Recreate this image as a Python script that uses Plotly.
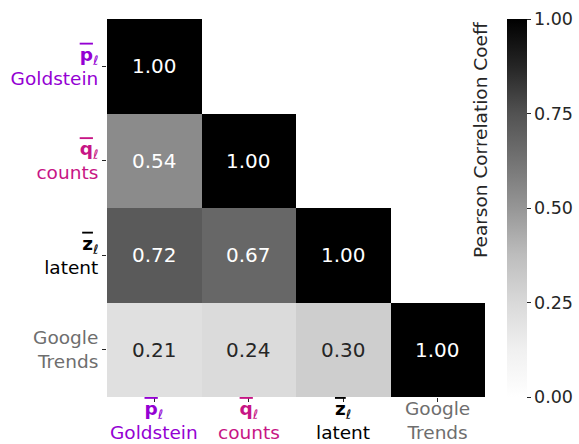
import plotly.graph_objects as go

# Correlation matrix (lower triangle only)
labels_main = ["p", "q", "z", None]
labels_sub = ["Goldstein", "counts", "latent", "Google<br>Trends"]
label_colors = ["#9400D3", "#C71585", "#000000", "#6E6E6E"]
corr = [
    [1.00, None, None, None],
    [0.54, 1.00, None, None],
    [0.72, 0.67, 1.00, None],
    [0.21, 0.24, 0.30, 1.00],
]
cbar_ticks = [0.00, 0.25, 0.50, 0.75, 1.00]

# matplotlib-style "Greys" colour map (white -> black)
greys = [
    [0.000, "rgb(255,255,255)"],
    [0.125, "rgb(240,240,240)"],
    [0.250, "rgb(217,217,217)"],
    [0.375, "rgb(189,189,189)"],
    [0.500, "rgb(150,150,150)"],
    [0.625, "rgb(115,115,115)"],
    [0.750, "rgb(82,82,82)"],
    [0.875, "rgb(37,37,37)"],
    [1.000, "rgb(0,0,0)"],
]

LABEL_SIZE = 18.5


def tick_label(main, sub, color):
    lines = []
    if main is not None:
        lines.append(
            f"<span style='color:{color};text-decoration:overline'><b>{main}</b></span>"
            f"<span style='color:{color}'><sub>\u2113</sub></span>"
        )
    for part in sub.split("<br>"):
        lines.append(f"<span style='color:{color}'>{part}</span>")
    return "<br>".join(lines)


ticktext = [tick_label(m, s, c) for m, s, c in zip(labels_main, labels_sub, label_colors)]
idx = list(range(len(labels_sub)))

fig = go.Figure(
    go.Heatmap(
        z=corr,
        x=idx,
        y=idx,
        zmin=0,
        zmax=1,
        colorscale=greys,
        hoverongaps=False,
        colorbar=dict(
            x=(507 - 107) / 378,
            xanchor="left",
            xpad=0,
            y=0.5,
            yanchor="middle",
            ypad=0,
            len=1.0,
            lenmode="fraction",
            thickness=20,
            thicknessmode="pixels",
            outlinewidth=0,
            tickvals=cbar_ticks,
            ticktext=[f"{v:.2f}" for v in cbar_ticks],
            ticks="outside",
            ticklen=4,
            tickcolor="#262626",
            tickfont=dict(size=17.5, color="#262626"),
        ),
    )
)

# Cell value labels
annotations = []
for i, row in enumerate(corr):
    for j, v in enumerate(row):
        if v is None:
            continue
        annotations.append(
            dict(
                x=j,
                y=i,
                xref="x",
                yref="y",
                text=f"{v:.2f}",
                showarrow=False,
                font=dict(size=20, color="#FFFFFF" if v >= 0.5 else "#262626"),
            )
        )

# Column labels under the x axis ticks
for j, txt in enumerate(ticktext):
    annotations.append(
        dict(
            x=j,
            y=0,
            xref="x",
            yref="paper",
            text=txt,
            showarrow=False,
            xanchor="center",
            yanchor="top",
            yshift=0,
            borderpad=0,
            font=dict(size=LABEL_SIZE),
        )
    )

# Colorbar caption, placed on the left of the bar
annotations.append(
    dict(
        x=(480 - 107) / 378,
        y=1 - (140 - 19) / 378,
        xref="paper",
        yref="paper",
        text="Pearson Correlation Coeff",
        textangle=-90,
        showarrow=False,
        font=dict(size=18.5, color="#262626"),
        xanchor="center",
        yanchor="middle",
    )
)

fig.update_layout(
    width=579,
    height=444,
    margin=dict(l=107, r=94, t=19, b=47, autoexpand=False),
    paper_bgcolor="white",
    plot_bgcolor="white",
    font=dict(family="DejaVu Sans", color="#262626"),
    annotations=annotations,
    xaxis=dict(
        tickvals=idx,
        showticklabels=False,
        range=[-0.5, 3.5],
        showgrid=False,
        zeroline=False,
        ticks="outside",
        ticklen=4,
        tickcolor="#262626",
    ),
    yaxis=dict(
        tickvals=idx,
        ticktext=ticktext,
        range=[3.5, -0.5],
        showgrid=False,
        zeroline=False,
        ticks="outside",
        ticklen=4,
        tickcolor="#262626",
        tickfont=dict(size=LABEL_SIZE),
    ),
)

fig.write_html("out.html")
